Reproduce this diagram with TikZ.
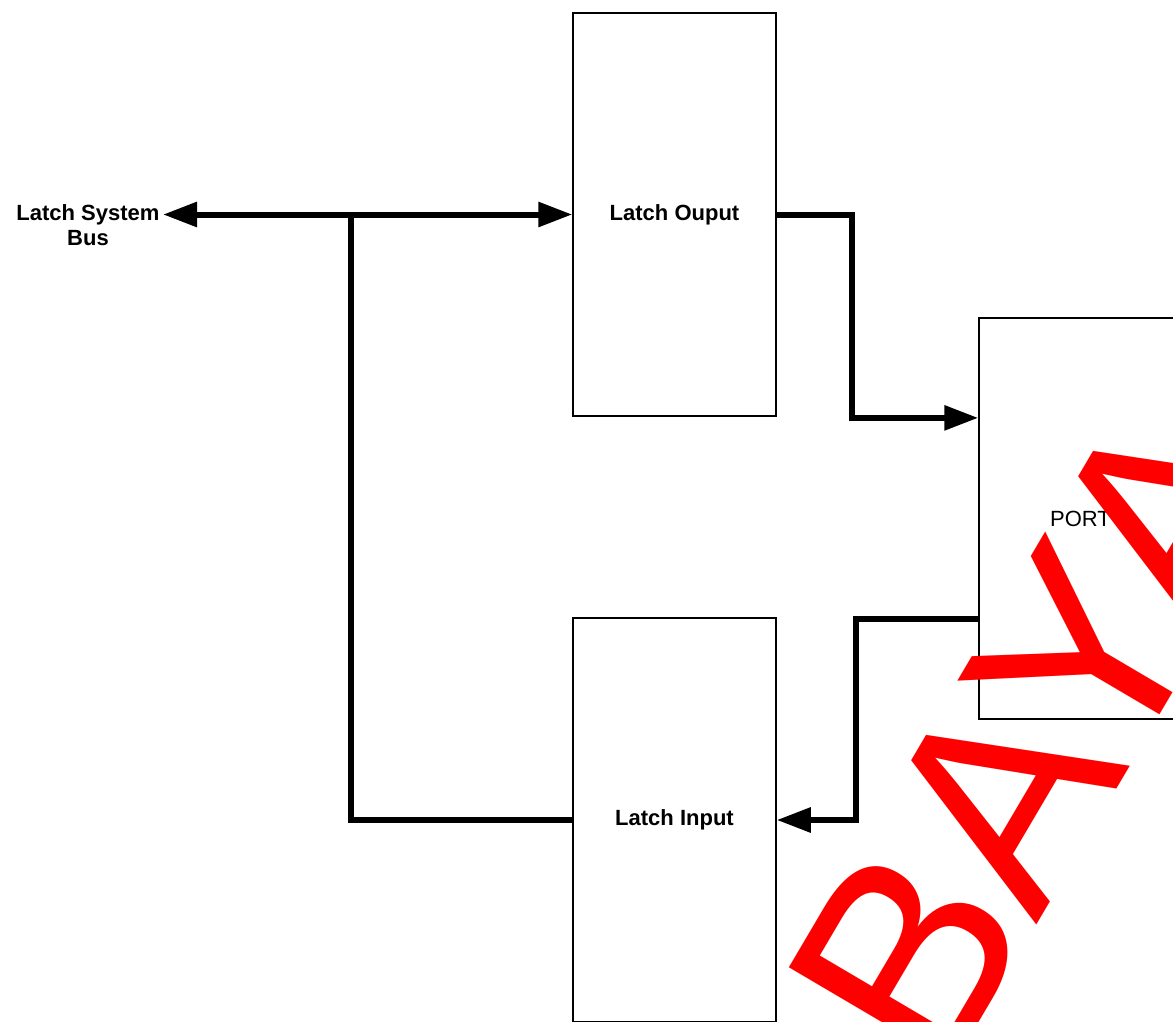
\documentclass[tikz,border=0pt]{standalone}
\usepackage{fontspec}
\setmainfont{Liberation Sans}
\usetikzlibrary{arrows.meta, calc}

\begin{document}
\begin{tikzpicture}[x=1pt, y=-1pt, >={Triangle[length=34pt, width=24pt]},
  every node/.style={font=\fontsize{22}{25}\selectfont\bfseries},
  blockbox/.style={draw, line width=1.5pt, minimum width=203pt, inner sep=0pt},
  bus/.style={line width=6pt, line join=miter}]
  \useasboundingbox (0,0) rectangle (1173,1021);
  \clip (0,0) rectangle (1173,1021);
  \node[blockbox, minimum height=403pt] (latchout) at (674.5,214.5) {Latch Ouput};
  \node[blockbox, minimum height=404pt] (latchin) at (674.5,820) {Latch Input};
  \node[blockbox, minimum height=401pt, font=\fontsize{22}{25}\selectfont] (port) at (1080.5,518.5) {PORT};
  \node[align=center] (latchbus) at (88,225) {Latch System\\Bus};
  \coordinate (split) at (351,215);
  \coordinate (portin) at ($(port.north west)!0.25!(port.south west)$);
  \coordinate (portout) at ($(port.north west)!0.75!(port.south west)$);
  \draw[bus, <->] (latchbus.east |- latchout.west) -- (latchout.west);
  \draw[bus] (split) |- (latchin.west);
  \draw[bus, ->] (latchout.east) -- ++(75,0) |- (portin);
  \draw[bus, ->] (portout) -- ++(-122,0) |- (latchin.east);
  \node[text=red, font=\fontsize{278}{278}\selectfont, rotate=59.5, anchor=base west, inner sep=0pt] (stamp) at (942,1085) {BAYA};
\end{tikzpicture}
\end{document}
